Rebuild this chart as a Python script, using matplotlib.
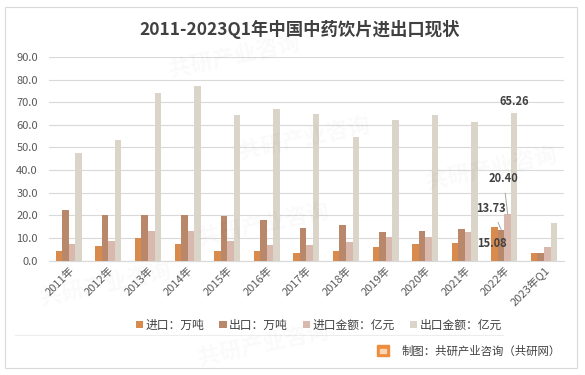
import numpy as np
import matplotlib
matplotlib.use("Agg")
import matplotlib.pyplot as plt
from matplotlib.patches import Rectangle
from matplotlib.lines import Line2D

plt.rcParams['font.family'] = ['Noto Sans CJK SC', 'DejaVu Sans']

years = ['2011年', '2012年', '2013年', '2014年', '2015年', '2016年', '2017年',
         '2018年', '2019年', '2020年', '2021年', '2022年', '2023年Q1']
import_vol = [4.4, 6.5, 9.9, 7.4, 4.4, 4.4, 3.3, 4.1, 6.2, 7.4, 8.0, 15.08, 3.5]
export_vol = [22.4, 20.1, 20.1, 20.1, 19.6, 17.8, 14.5, 15.9, 12.5, 13.0, 14.0, 13.73, 3.5]
import_amt = [7.2, 8.6, 13.1, 13.1, 8.6, 6.9, 7.1, 8.3, 10.3, 10.3, 12.8, 20.40, 6.1]
export_amt = [47.6, 53.2, 74.2, 77.4, 64.5, 67.0, 65.0, 54.6, 62.1, 64.2, 61.4, 65.26, 16.7]

series = [
    ('进口：万吨', import_vol, '#D98A4D'),
    ('出口：万吨', export_vol, '#B9876A'),
    ('进口金额：亿元', import_amt, '#D9B8AD'),
    ('出口金额：亿元', export_amt, '#DBD4C8'),
]

fig = plt.figure(figsize=(5.85, 3.75), dpi=100)
ax = fig.add_axes([0.0838, 0.305, 0.880, 0.543])

x = np.arange(len(years))
w = 0.165
bars = []
for k, (name, vals, col) in enumerate(series):
    b = ax.bar(x + (k - 1.5) * w, vals, width=w, color=col, label=name, zorder=3)
    bars.append(b)

ax.set_xlim(-0.5, len(years) - 0.5)
ax.set_ylim(0, 90)
ax.set_yticks(np.arange(0, 91, 10))
ax.set_yticklabels([f'{v:.1f}' for v in np.arange(0, 91, 10)])
ax.yaxis.grid(True, color='#D9D9D9', linewidth=0.8, zorder=0)
ax.tick_params(axis='y', length=0, pad=8, labelsize=8, labelcolor='#595959')
ax.tick_params(axis='x', length=0, pad=3, labelsize=8, labelcolor='#595959')
ax.set_xticks(x)
ax.set_xticklabels(years, rotation=45, ha='right', rotation_mode='anchor')
for s in ['top', 'right', 'left']:
    ax.spines[s].set_visible(False)
ax.spines['bottom'].set_color('#D9D9D9')

# data labels for 2022
i22 = years.index('2022年')
lab_style = dict(fontsize=8, fontweight='bold', color='#404040', ha='center', va='center',
                 textcoords='offset points', zorder=5)
line = dict(arrowstyle='-', color='#A6A6A6', lw=0.7, shrinkA=4, shrinkB=0)
b = bars[3][i22]
ax.annotate(f'{export_amt[i22]:.2f}', (b.get_x() + w / 2, b.get_height()), xytext=(0, 8), **lab_style)
b = bars[2][i22]
ax.annotate(f'{import_amt[i22]:.2f}', (b.get_x() + w / 2, b.get_height()), xytext=(-3, 26),
            arrowprops=line, **lab_style)
b = bars[1][i22]
ax.annotate(f'{export_vol[i22]:.2f}', (b.get_x() + w / 2, b.get_height()), xytext=(-7, 15.5),
            arrowprops=line, **lab_style)
b = bars[0][i22]
ax.annotate(f'{import_vol[i22]:.2f}', (b.get_x() + w / 2, b.get_height()), xytext=(-2, -12),
            **lab_style)

fig.text(0.513, 0.922, '2011-2023Q1年中国中药饮片进出口现状', ha='center', va='center',
         fontsize=12.5, fontweight='bold', color='#404040')

leg = fig.legend(loc='center', bbox_to_anchor=(0.545, 0.133), ncol=4, frameon=False,
                 fontsize=8.5, handlelength=0.6, handleheight=0.6, handletextpad=0.2,
                 columnspacing=1.3, labelcolor='#404040')

# faint separator and outer frame
fig.add_artist(Line2D([0.026, 0.86], [0.107, 0.107], color='#EDEDED', lw=0.8))
fig.add_artist(Rectangle((0.009, 0.019), 0.977, 0.962, fill=False, edgecolor='#D9D9D9', lw=0.8))

# source with little logo
fig.add_artist(Rectangle((0.645, 0.050), 0.020, 0.030, color='#F08C3E', zorder=4))
fig.add_artist(Rectangle((0.650, 0.058), 0.010, 0.012, color='#FBD6B5', zorder=5))
fig.text(0.958, 0.064, '制图：共研产业咨询（共研网）', ha='right', va='center',
         fontsize=8.2, color='#404040')

# watermarks
for wx, wy in [(0.40, 0.85), (0.52, 0.63), (0.45, 0.40), (0.84, 0.55), (0.18, 0.24), (0.45, 0.08)]:
    fig.text(wx, wy, '共研产业咨询', fontsize=16, color='#000000', alpha=0.025,
             rotation=12, ha='center', va='center', fontweight='bold')

fig.savefig('out.png', dpi=100)
